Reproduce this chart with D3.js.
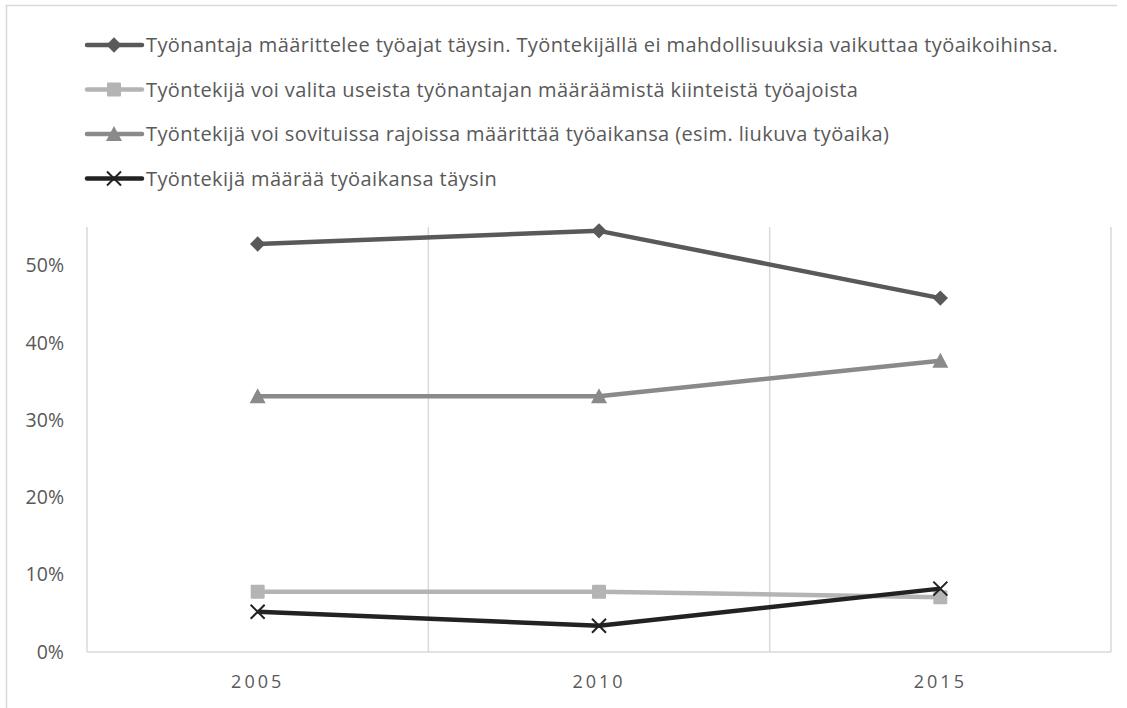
<!DOCTYPE html>
<html>
<head>
<meta charset="utf-8">
<script src="https://cdn.jsdelivr.net/npm/d3@7"></script>
<style>
  body { margin: 0; background: #fff; }
  text { font-family: "Open Sans", "Noto Sans", sans-serif; fill: #595959; }
</style>
</head>
<body>
<div class="lineChart"></div>
<script>
var years = ["2005", "2010", "2015"];
var seriesNames = [
  "Työnantaja määrittelee työajat täysin. Työntekijällä ei mahdollisuuksia vaikuttaa työaikoihinsa.",
  "Työntekijä voi valita useista työnantajan määräämistä kiinteistä työajoista",
  "Työntekijä voi sovituissa rajoissa määrittää työaikansa (esim. liukuva työaika)",
  "Työntekijä määrää työaikansa täysin"
];
var employerSets = [0.528, 0.545, 0.458];
var fixedChoice = [0.078, 0.078, 0.071];
var flexTime = [0.331, 0.331, 0.377];
var employeeSets = [0.052, 0.034, 0.082];
var yTicks = [0, 0.1, 0.2, 0.3, 0.4, 0.5];

function init() {
  var w = 1127;
  var h = 708;
  var left = 87, right = 1111, top = 227, bottom = 652;

  var series = [
    { name: seriesNames[0], values: employerSets, color: "#595959", marker: "diamond" },
    { name: seriesNames[1], values: fixedChoice, color: "#b4b4b4", marker: "square" },
    { name: seriesNames[2], values: flexTime, color: "#8a8a8a", marker: "triangle" },
    { name: seriesNames[3], values: employeeSets, color: "#222222", marker: "cross" }
  ];

  var svg = d3.select(".lineChart")
    .append("svg")
    .attr("width", w)
    .attr("height", h);

  // outer frame (only top and left visible)
  svg.append("path")
    .attr("d", "M6.5,708 L6.5,5.5 L1117,5.5")
    .attr("fill", "none")
    .attr("stroke", "#d9d9d9")
    .attr("stroke-width", 1.5);

  var xScale = d3.scaleBand()
    .domain(years)
    .range([left, right]);

  var yScale = d3.scaleLinear()
    .domain([0, 0.55])
    .range([bottom, top]);

  // vertical gridlines between categories
  var edges = years.map(function(d) { return xScale(d); }).concat([right]);
  svg.selectAll(".vgrid")
    .data(edges)
    .enter()
    .append("line")
    .attr("class", "vgrid")
    .attr("x1", function(d) { return d; })
    .attr("x2", function(d) { return d; })
    .attr("y1", top)
    .attr("y2", bottom)
    .attr("stroke", "#d9d9d9")
    .attr("stroke-width", 1.5);

  svg.append("line")
    .attr("x1", left)
    .attr("x2", right)
    .attr("y1", bottom)
    .attr("y2", bottom)
    .attr("stroke", "#d9d9d9")
    .attr("stroke-width", 1.5);

  // y axis labels
  var yAxis = d3.axisLeft(yScale)
    .tickValues(yTicks)
    .tickFormat(d3.format(".0%"))
    .tickSize(0)
    .tickPadding(0);
  var yg = svg.append("g")
    .attr("transform", "translate(64,0)")
    .call(yAxis);
  yg.select(".domain").remove();
  yg.selectAll("text")
    .attr("font-size", "19.5px")
    .attr("fill", "#595959")
    .style("font-family", "'Open Sans', sans-serif");

  // x axis labels
  var xAxis = d3.axisBottom(xScale).tickSize(0).tickPadding(0);
  var xg = svg.append("g")
    .attr("transform", "translate(0," + 675 + ")")
    .call(xAxis);
  xg.select(".domain").remove();
  xg.selectAll("text")
    .attr("font-size", "18px")
    .attr("fill", "#595959")
    .attr("dy", "0.71em")
    .style("letter-spacing", "3px")
    .style("font-family", "'Open Sans', sans-serif");

  var line = d3.line()
    .x(function(d, i) { return xScale(years[i]) + xScale.bandwidth() / 2; })
    .y(function(d) { return yScale(d); });

  function drawMarker(g, type, color) {
    if (type === "diamond") {
      g.append("path").attr("d", d3.symbol().type(d3.symbolDiamond2).size(150)).attr("fill", color);
    } else if (type === "square") {
      g.append("rect").attr("x", -7).attr("y", -7).attr("width", 14).attr("height", 14).attr("rx", 1).attr("fill", color);
    } else if (type === "triangle") {
      g.append("path").attr("d", "M0,-8 L8,7 L-8,7 Z").attr("fill", color);
    } else {
      g.append("path").attr("d", "M-7,-7 L7,7 M7,-7 L-7,7")
        .attr("stroke", color).attr("stroke-width", 2).attr("fill", "none");
    }
  }

  series.forEach(function(s) {
    svg.append("path")
      .datum(s.values)
      .attr("d", line)
      .attr("fill", "none")
      .attr("stroke", s.color)
      .attr("stroke-width", 4.5)
      .attr("stroke-linejoin", "round");

    svg.selectAll(null)
      .data(s.values)
      .enter()
      .append("g")
      .attr("transform", function(d, i) {
        return "translate(" + (xScale(years[i]) + xScale.bandwidth() / 2) + "," + yScale(d) + ")";
      })
      .each(function() { drawMarker(d3.select(this), s.marker, s.color); });
  });

  // legend
  var legend = svg.append("g").attr("class", "legend");
  var legendItem = legend.selectAll(".legend-item")
    .data(series)
    .enter().append("g")
    .attr("class", "legend-item")
    .attr("transform", function(d, i) {
      return "translate(87," + (45 + i * 44.5) + ")";
    });

  legendItem.append("line")
    .attr("x1", 0).attr("x2", 55)
    .attr("stroke", function(d) { return d.color; })
    .attr("stroke-width", 4.5)
    .attr("stroke-linecap", "round");

  legendItem.append("g")
    .attr("transform", "translate(27,0)")
    .each(function(d) { drawMarker(d3.select(this), d.marker, d.color); });

  legendItem.append("text")
    .attr("x", 59)
    .attr("y", 0)
    .attr("dy", "0.35em")
    .attr("font-size", "20px")
    .style("letter-spacing", "0.4px")
    .attr("fill", "#595959")
    .text(function(d) { return d.name; });
}

window.onload = init;
</script>
</body>
</html>
